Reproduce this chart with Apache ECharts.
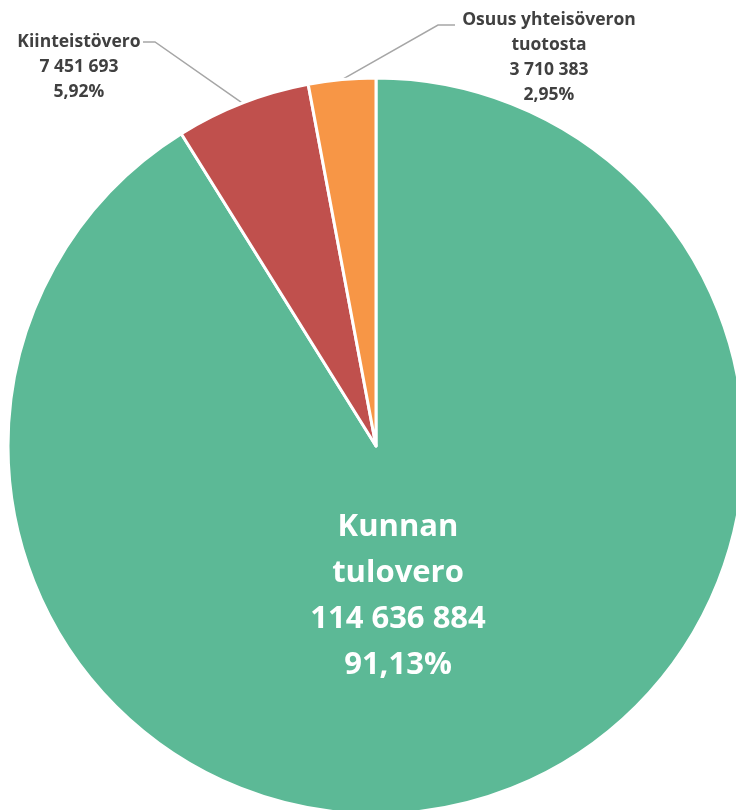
<!DOCTYPE html>
<html>
<head>
<meta charset="utf-8">
<script src="https://cdn.jsdelivr.net/npm/echarts@6/dist/echarts.min.js"></script>
<style>
  html, body { margin: 0; padding: 0; background: #fff; }
  #pie { width: 736px; height: 810px; }
</style>
</head>
<body>
<div id="pie"></div>
<script>
// tulot
var categories = ["Kunnan\ntulovero", "Kiinteistövero", "Osuus yhteisöveron\ntuotosta"];
var values = [114636884, 7451693, 3710383];
var colors = ["#5CB996", "#C0504D", "#F79646"];

// label placement (x, y = center / top of text block), line elbow + end
var labelPos = [
  { x: 398, y: 596, vAlign: "middle" },
  { x: 79, y: 30, vAlign: "top", elbow: [155, 42], end: [143, 42] },
  { x: 549, y: 8, vAlign: "top", elbow: [438, 25], end: [455, 25] }
];

function fmtNum(n) {
  return String(n).replace(/\B(?=(\d{3})+(?!\d))/g, " ");
}

var chart = echarts.init(document.getElementById("pie"));

var data = categories.map(function (c, i) {
  var item = { name: c, value: values[i], itemStyle: { color: colors[i] } };
  if (i === 0) {
    item.label = {
      position: "inside",
      color: "#fff",
      fontSize: 31,
      fontWeight: "bold",
      lineHeight: 46
    };
    item.labelLine = { show: false };
  }
  return item;
});

var option = {
  animation: false,
  series: [
    {
      type: "pie",
      center: [376, 446],
      radius: 368,
      startAngle: 90,
      clockwise: true,
      avoidLabelOverlap: false,
      percentPrecision: 2,
      itemStyle: { borderColor: "#fff", borderWidth: 3 },
      label: {
        show: true,
        position: "outside",
        fontFamily: "Open Sans",
        fontSize: 17.5,
        fontWeight: "bold",
        color: "#404040",
        lineHeight: 25,
        align: "center",
        formatter: function (p) {
          return p.name + "\n" + fmtNum(p.value) + "\n" + p.percent.toFixed(2).replace(".", ",") + "%";
        }
      },
      labelLine: {
        show: true,
        lineStyle: { color: "#A6A6A6", width: 1.5 }
      },
      labelLayout: function (params) {
        var lp = labelPos[params.dataIndex];
        var out = { x: lp.x, y: lp.y, align: "center", verticalAlign: lp.vAlign };
        if (lp.elbow && params.labelLinePoints) {
          out.labelLinePoints = [params.labelLinePoints[0], lp.elbow, lp.end];
        }
        return out;
      },
      data: data
    }
  ]
};
chart.setOption(option);
</script>
</body>
</html>
